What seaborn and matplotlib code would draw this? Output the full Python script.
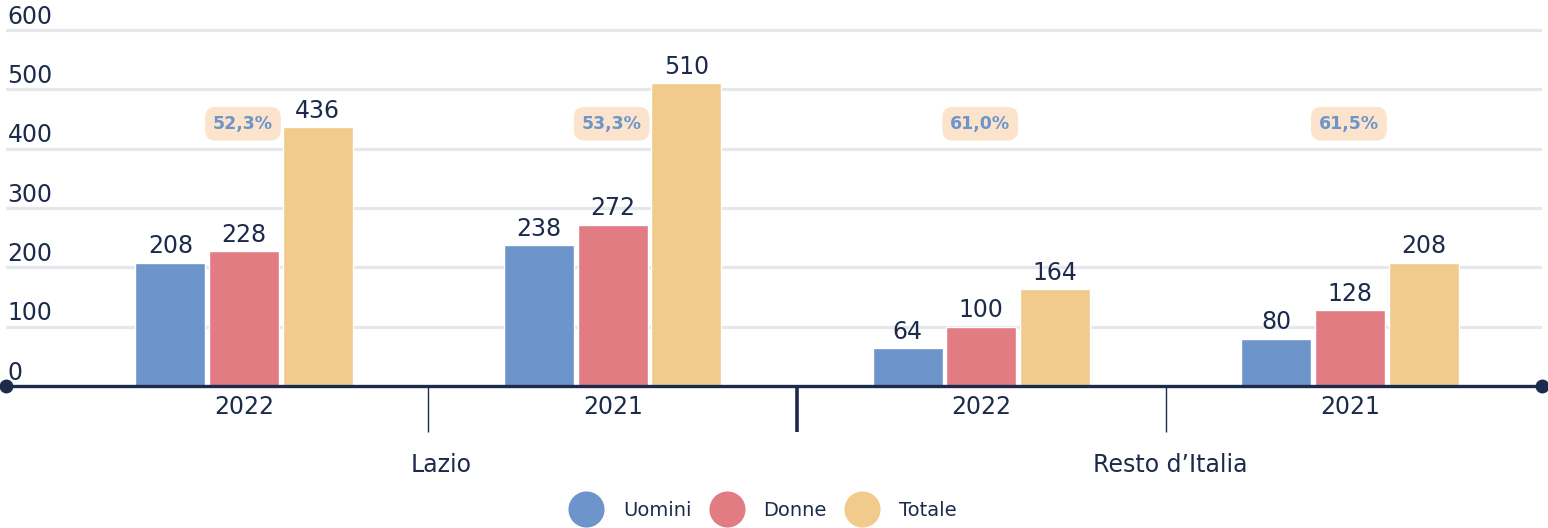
import pandas as pd
import matplotlib.pyplot as plt
import matplotlib.transforms as mtransforms
from matplotlib.lines import Line2D
import seaborn as sns

# data
groups = ["Lazio", "Lazio", "Resto d\u2019Italia", "Resto d\u2019Italia"]
years = ["2022", "2021", "2022", "2021"]
uomini = [208, 238, 64, 80]
donne = [228, 272, 100, 128]
totale = [436, 510, 164, 208]
series = ["Uomini", "Donne", "Totale"]
region_names = ["Lazio", "Resto d\u2019Italia"]
yticks = [0, 100, 200, 300, 400, 500, 600]

navy = "#1c2b4b"
colors = ["#6d94cb", "#e17c83", "#f0cb8c"]

keys = [g + " " + y for g, y in zip(groups, years)]
rows = []
for name, vals in zip(series, [uomini, donne, totale]):
    for k, v in zip(keys, vals):
        rows.append({"key": k, "serie": name, "value": v})
df = pd.DataFrame(rows)

sns.set_style("white")
plt.rcParams["font.family"] = ["DejaVu Sans"]

W, H = 1548, 528
fig = plt.figure(figsize=(W / 100, H / 100), dpi=100)
ax_left, ax_right = 6, 1542
ax_bottom, ax_top = 386, 27
ax = fig.add_axes([ax_left / W, 1 - ax_bottom / H, (ax_right - ax_left) / W, (ax_bottom - ax_top) / H])

sns.barplot(data=df, x="key", y="value", hue="serie", order=keys, hue_order=series,
            palette=colors, width=0.6, gap=0.05, saturation=1, ax=ax, legend=False)

ax.set_xlim(-0.646, 3.521)
ax.set_ylim(0, 605)
for s in ax.spines.values():
    s.set_visible(False)

# gridlines
for v in yticks[1:]:
    ax.axhline(v, color="#e6e7ec", lw=2.3, zorder=0)
ax.axhline(0, color=navy, lw=2.4, zorder=5, clip_on=False)
ax.plot([ax.get_xlim()[0], ax.get_xlim()[1]], [0, 0], "o", color=navy, ms=9,
        clip_on=False, zorder=6)

# y labels above the gridlines
ax.set_yticks([])
ytrans = mtransforms.blended_transform_factory(ax.transAxes, ax.transData)
for v in yticks:
    ax.annotate(str(v), (0.001, v), xycoords=ytrans, xytext=(0, 1), textcoords="offset points",
                ha="left", va="bottom", fontsize=17, color=navy)

# x labels
ax.set_xticks([])
ax.set_xlabel("")
ax.set_ylabel("")
xtrans = mtransforms.blended_transform_factory(ax.transData, ax.transAxes)
ax_h = ax_bottom - ax_top
for i, y in enumerate(years):
    ax.text(i, -21 / ax_h, y, transform=xtrans, ha="center", va="center", fontsize=17, color=navy)
for xs, lw in [(0.5, 1.0), (1.5, 2.6), (2.5, 1.0)]:
    ax.plot([xs, xs], [0, -46 / ax_h], transform=xtrans, color=navy, lw=lw, clip_on=False,
            solid_capstyle="butt")
for xs, name in zip([0.535, 2.512], region_names):
    ax.text(xs, -79 / ax_h, name, transform=xtrans, ha="center", va="center", fontsize=17, color=navy)

# value labels
for c in ax.containers:
    ax.bar_label(c, padding=3, fontsize=17, color=navy)

# share of women
for i in range(len(keys)):
    pct = f"{donne[i] / totale[i] * 100:.1f}%".replace(".", ",")
    ax.text(i - 0.003, 442, pct, ha="center", va="center", fontsize=12.5, fontweight="bold",
            color="#6d94cb", zorder=7,
            bbox=dict(boxstyle="round,pad=0.45,rounding_size=0.6", fc="#fce3cb", ec="none"))

handles = [Line2D([], [], marker="o", ls="none", color=c, ms=25) for c in colors]
fig.legend(handles, series, loc="center", bbox_to_anchor=(0.4926, 1 - 510 / H), ncol=3,
           frameon=False, fontsize=14, labelcolor=navy, handlelength=1.8,
           handletextpad=1.0, columnspacing=0.9)

fig.savefig("out.png", dpi=100)
